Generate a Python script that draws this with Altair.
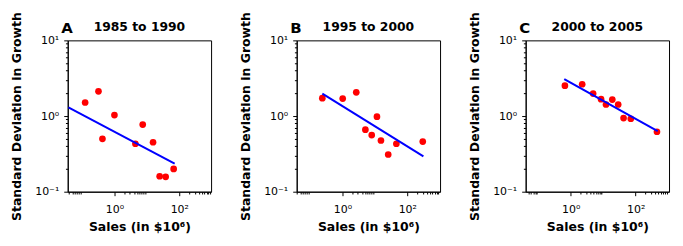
import altair as alt
import pandas as pd

FONT = "DejaVu Sans"

letters = ["A", "B", "C"]
titles = ["1985 to 1990", "1995 to 2000", "2000 to 2005"]

# Panel A
a_sales = [0.125, 0.322, 0.427, 1.0, 4.43, 7.45, 15.5, 24.8, 38, 67]
a_sd = [1.51, 2.12, 0.50, 1.03, 0.43, 0.77, 0.45, 0.16, 0.157, 0.20]
a_fit_sales = [0.038, 72]
a_fit_sd = [1.30, 0.235]

# Panel B
b_sales = [0.24, 1.02, 2.67, 5.1, 8.0, 11.6, 15.4, 25.8, 46, 300]
b_sd = [1.72, 1.70, 2.06, 0.66, 0.56, 0.98, 0.475, 0.31, 0.43, 0.46]
b_fit_sales = [0.24, 314]
b_fit_sd = [1.98, 0.293]

# Panel C
c_sales = [0.66, 2.25, 4.9, 8.6, 12.2, 19.1, 29, 42.5, 71, 455]
c_sd = [2.52, 2.63, 1.98, 1.67, 1.42, 1.65, 1.42, 0.94, 0.92, 0.62]
c_fit_sales = [0.63, 479]
c_fit_sd = [3.08, 0.63]

x_domains = [[0.0363, 955], [0.0389, 1023], [0.0407, 1072]]
y_domain = [0.1, 10]

x_tick_values = ([k / 100 for k in range(2, 10)] + [1] + list(range(2, 10))
                 + [100] + [k * 100 for k in range(2, 10)])
y_tick_values = ([k / 10 for k in range(1, 10)] + list(range(1, 10)) + [10])

W, H = 144, 152


def x_axis(dom):
    vals = [v for v in x_tick_values if dom[0] <= v <= dom[1]]
    return alt.Axis(
        values=vals,
        labelExpr="datum.value == 1 ? '10⁰' : datum.value == 100 ? '10²' : ''",
        tickSize={"condition": {"test": "indexof([1, 100], datum.value) >= 0", "value": 4}, "value": 2.3},
        grid=False, labelFlush=False, labelOverlap=False,
        title="Sales (in $10⁶)", titleFont=FONT, titleFontSize=12.5, titleFontWeight="bold",
        titleColor="black", titlePadding=6.5,
        labelFont=FONT, labelFontSize=11, labelColor="black", labelPadding=7.5,
        domainColor="black", tickColor="black", tickWidth=1,
    )


y_axis = alt.Axis(
    values=y_tick_values,
    labelExpr="datum.value == 0.1 ? '10⁻¹' : datum.value == 1 ? '10⁰' : datum.value == 10 ? '10¹' : ''",
    tickSize={"condition": {"test": "indexof([0.1, 1, 10], datum.value) >= 0", "value": 4}, "value": 2.3},
    grid=False, labelFlush=False, labelOverlap=False,
    title="Standard Deviation in Growth", titleFont=FONT, titleFontSize=12.5, titleFontWeight="bold",
    titleColor="black", titlePadding=11,
    labelFont=FONT, labelFontSize=11, labelColor="black", labelPadding=5,
    domainColor="black", tickColor="black", tickWidth=1,
)


def panel(i, sales, sd, fit_s, fit_sd):
    pts = pd.DataFrame({"sales": sales, "sd": sd})
    fit = pd.DataFrame({"sales": fit_s, "sd": fit_sd})
    x = alt.X("sales:Q", scale=alt.Scale(type="log", domain=x_domains[i]), axis=x_axis(x_domains[i]))
    y = alt.Y("sd:Q", scale=alt.Scale(type="log", domain=y_domain), axis=y_axis)
    p = alt.Chart(pts).mark_circle(color="#ff0000", size=45, opacity=1).encode(x=x, y=y)
    l = alt.Chart(fit).mark_line(color="#0000ff", strokeWidth=2).encode(x=x, y=y)
    lab = pd.DataFrame({"letter": [letters[i]], "title": [titles[i]]})
    t = alt.Chart(lab).mark_text(
        align="left", baseline="alphabetic", fontSize=15, fontWeight="bold", font=FONT, color="black"
    ).encode(x=alt.value(-6.5), y=alt.value(-7.6), text="letter:N")
    tt = alt.Chart(lab).mark_text(
        align="center", baseline="alphabetic", fontSize=12.4, fontWeight="bold", font=FONT, color="black"
    ).encode(x=alt.value(W / 2), y=alt.value(-9.3), text="title:N")
    return alt.layer(p, l, t, tt).properties(width=W, height=H)


chart = alt.hconcat(
    panel(0, a_sales, a_sd, a_fit_sales, a_fit_sd),
    panel(1, b_sales, b_sd, b_fit_sales, b_fit_sd),
    panel(2, c_sales, c_sd, c_fit_sales, c_fit_sd),
    spacing=27,
).properties(
    padding={"left": 2, "top": 2, "right": 5, "bottom": 5},
    background="white",
).configure_view(stroke="black", strokeWidth=1)

chart.save("out.html", embed_options={"renderer": "svg", "actions": False})
